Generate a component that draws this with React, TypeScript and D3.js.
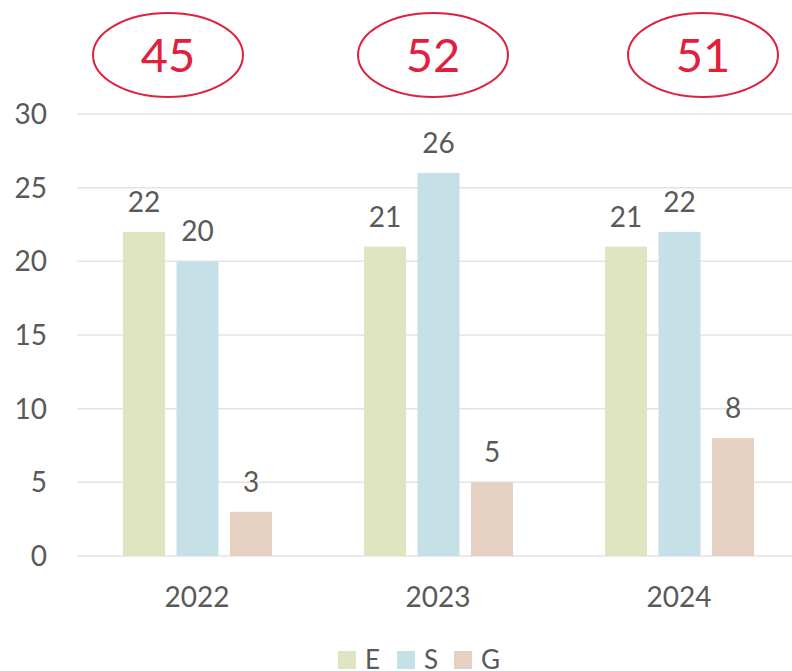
import React from "react";
import * as d3 from "d3";

const years = ["2022", "2023", "2024"];
const seriesNames = ["E", "S", "G"];
const eValues = [22, 21, 21];
const sValues = [20, 26, 22];
const gValues = [3, 5, 8];
const seriesColors = ["#e0e5c1", "#c5e1e7", "#e5d0c1"];
const yTicks = [0, 5, 10, 15, 20, 25, 30];
const ellipseOffsets = [-29, -5, 24];

const W = 792;
const H = 671;
const FONT = "Lato, 'Open Sans', sans-serif";
const TEXT = "#595959";
const RED = "#e0203c";

export default function App() {
  const values = [eValues, sValues, gValues];
  const x = d3.scaleBand<string>().domain(years).range([76.5, 799.5]).padding(0);
  const inner = d3
    .scaleBand<string>()
    .domain(seriesNames)
    .range([46.5, 195.5])
    .paddingInner(0.215)
    .paddingOuter(0);
  const y = d3.scaleLinear().domain([0, 30]).range([556, 114]);

  const legendX = [338, 397, 454];

  return (
    <div style={{ position: "absolute", left: 0, top: 0 }}>
      <svg width={W} height={H} style={{ display: "block", fontFamily: FONT }}>
        <rect width={W} height={H} fill="#ffffff" />
        {yTicks.map((t) => (
          <g key={t}>
            <line x1={77} x2={792} y1={y(t)} y2={y(t)} stroke="#e3e3e3" strokeWidth={1.5} />
            <text x={47} y={y(t) + 10} textAnchor="end" fontSize={28} fill={TEXT}>
              {t}
            </text>
          </g>
        ))}
        {years.map((yr, i) => (
          <g key={yr} transform={`translate(${x(yr)},0)`}>
            {seriesNames.map((s, j) => {
              const v = values[j][i];
              const bx = inner(s)!;
              const bw = inner.bandwidth();
              return (
                <g key={s}>
                  <rect x={bx} y={y(v)} width={bw} height={y(0) - y(v)} fill={seriesColors[j]} />
                  <text x={bx + bw / 2} y={y(v) - 20} textAnchor="middle" fontSize={28} fill={TEXT}>
                    {v}
                  </text>
                </g>
              );
            })}
            <text x={x.bandwidth() / 2} y={607} textAnchor="middle" fontSize={28} fill={TEXT}>
              {yr}
            </text>
          </g>
        ))}
        {years.map((yr, i) => {
          const total = eValues[i] + sValues[i] + gValues[i];
          const cx = x(yr)! + x.bandwidth() / 2 + ellipseOffsets[i];
          return (
            <g key={"e" + yr}>
              <ellipse cx={cx} cy={55} rx={75} ry={42} fill="none" stroke={RED} strokeWidth={2} />
              <text x={cx} y={72} textAnchor="middle" fontSize={47} fill={RED}>
                {total}
              </text>
            </g>
          );
        })}
        {seriesNames.map((s, j) => (
          <g key={"l" + s}>
            <rect x={legendX[j]} y={651} width={18} height={18} fill={seriesColors[j]} />
            <text x={legendX[j] + 27} y={669} fontSize={26} fill={TEXT}>
              {s}
            </text>
          </g>
        ))}
      </svg>
    </div>
  );
}
